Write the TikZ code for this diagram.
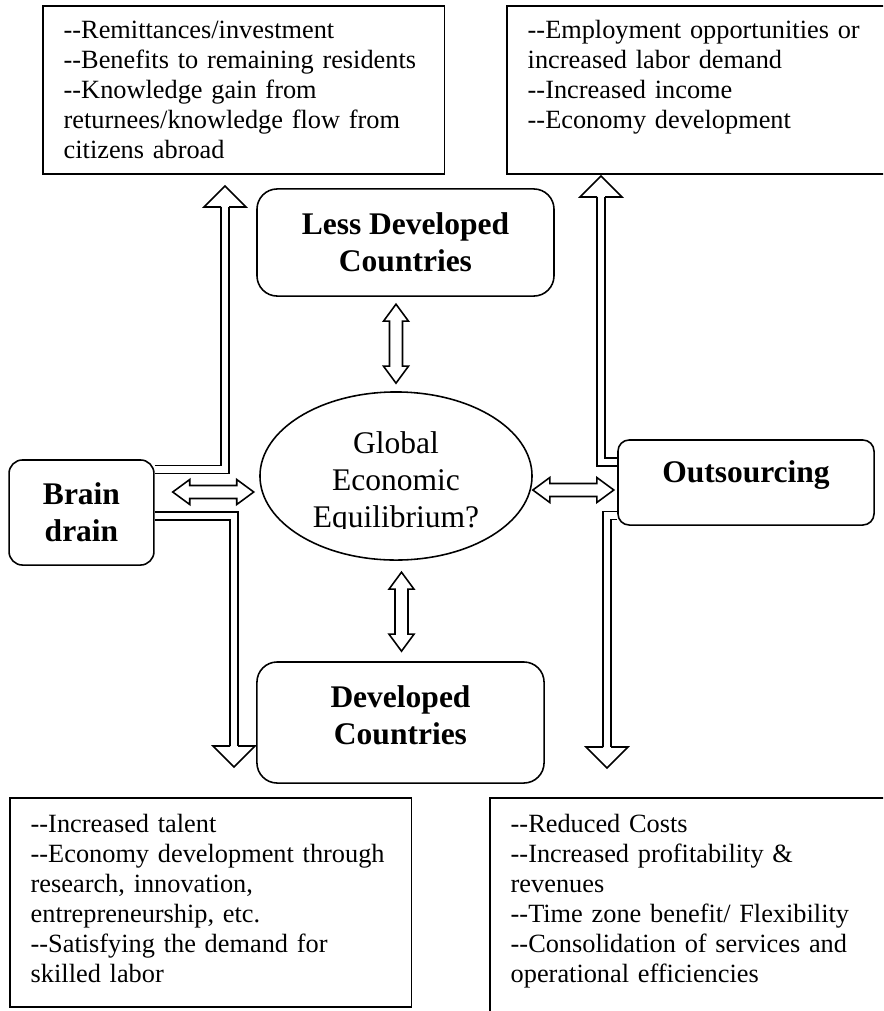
\documentclass[tikz,border=0pt]{standalone}
\usepackage{fontspec}
\setmainfont{Liberation Serif}[Ligatures=TeXOff]
\usepackage{tikz}
\usetikzlibrary{shapes.geometric,calc,backgrounds}
\hyphenpenalty=10000
\exhyphenpenalty=10000
\tikzset{
  outbox/.style={draw,line width=0.7pt,anchor=north west,align=left,font=\fontsize{11.7}{13.3}\selectfont,inner xsep=9.3pt,inner ysep=0pt},
  rbox/.style={draw,line width=0.7pt,rounded corners=9pt,align=center,font=\fontsize{14}{16.4}\selectfont\bfseries,inner sep=0pt},
  ell/.style={draw,ellipse,line width=0.7pt,inner sep=0pt,minimum width=120.9pt,minimum height=74.7pt},
  shaft/.style={double,double distance=2.85pt,line width=0.7pt},
  hollow/.style={draw,line width=0.7pt,line join=miter}
}
\newcommand{\dblarr}[3]{% start tip, direction, length
  \begin{scope}[shift={(#1)},rotate=#2]
    \draw[hollow] (0,0) -- (17,12.5) -- (17,6.5) -- (#3-17,6.5) -- (#3-17,12.5) -- (#3,0)
      -- (#3-17,-12.5) -- (#3-17,-6.5) -- (17,-6.5) -- (17,-12.5) -- cycle;
  \end{scope}}
\newcommand{\hhead}[2]{% base centre, direction
  \begin{scope}[shift={(#1)},rotate=#2]
    \draw[hollow] (0,-4) -- (0,-21) -- (21,0) -- (0,21) -- (0,4);
  \end{scope}}

\begin{document}
\begin{tikzpicture}[x=0.4444pt,y=-0.4444pt]
\useasboundingbox (0,0) rectangle (883,1011);
\clip (0,0) rectangle (883,1011);
% outcome boxes
\node[outbox,text width=160pt,text height=14.7pt,text depth=60pt] (tl) at (42,5) {--Remittances/investment\\--Benefits to remaining residents\\--Knowledge gain from\\returnees/knowledge flow from\\citizens abroad};
\node[outbox,text width=200pt,text height=14.7pt,text depth=60pt] (tr) at (506,5) {--Employment opportunities or\\increased labor demand\\--Increased income\\--Economy development};
\node[outbox,text width=160pt,text height=15.6pt,text depth=77.3pt] (bl) at (9,797) {--Increased talent\\--Economy development through\\research, innovation,\\entrepreneurship, etc.\\--Satisfying the demand for\\skilled labor};
\node[outbox,text width=200pt,text height=15.6pt,text depth=100pt] (br) at (489,797) {--Reduced Costs\\--Increased profitability \&\\revenues\\--Time zone benefit/ Flexibility\\--Consolidation of services and\\operational efficiencies};
% actors
\node[rbox,minimum width=132pt,minimum height=47.6pt] (ldc) at (405.5,242.5) {Less Developed\\Countries};
\node[rbox,minimum width=127.6pt,minimum height=53.8pt,text depth=6.9pt] (dev) at (400.5,722.5) {Developed\\Countries};
\node[rbox,rounded corners=6pt,minimum width=64.4pt,minimum height=46.7pt] (bd) at (81.5,512.5) {Brain\\drain};
\node[rbox,rounded corners=5pt,minimum width=113.8pt,minimum height=37.8pt,text depth=9.9pt] (os) at (746,482.5) {Outsourcing};
% centre
\node[ell] (geq) at (396,476) {};
\begin{scope}
  \clip (250,380) rectangle (545,528);
  \node[font=\fontsize{14}{16.4}\selectfont,align=center] (geqtxt) at (396,482.8) {Global\\Economic\\Equilibrium?};
\end{scope}
\dblarr{$(geq.north)+(0,-8)$}{90}{79}
\dblarr{$(dev.north)+(1,-10)$}{90}{79}
\dblarr{$(bd.east)+(18,-20.5)$}{0}{81}
\dblarr{$(geq.east)+(0,14)$}{0}{81}
% bent arrows to the outcome boxes
\coordinate (hUL) at (225,207);
\coordinate (hLL) at (234,746);
\coordinate (hUR) at (601,197);
\coordinate (hLR) at (607,747);
\begin{scope}[on background layer]
  \draw[shaft] ($(bd.north east)+(0,10.5)$) -| (hUL);
  \draw[shaft] ($(bd.east)+(0,3.5)$) -| (hLL);
  \draw[shaft] ($(os.west)+(0,-20.5)$) -| (hUR);
  \draw[shaft] ($(os.west)+(0,33)$) -| (hLR);
\end{scope}
\foreach \c/\r in {hUL/90,hLL/-90,hUR/90,hLR/-90} \hhead{\c}{\r};
\end{tikzpicture}
\end{document}
